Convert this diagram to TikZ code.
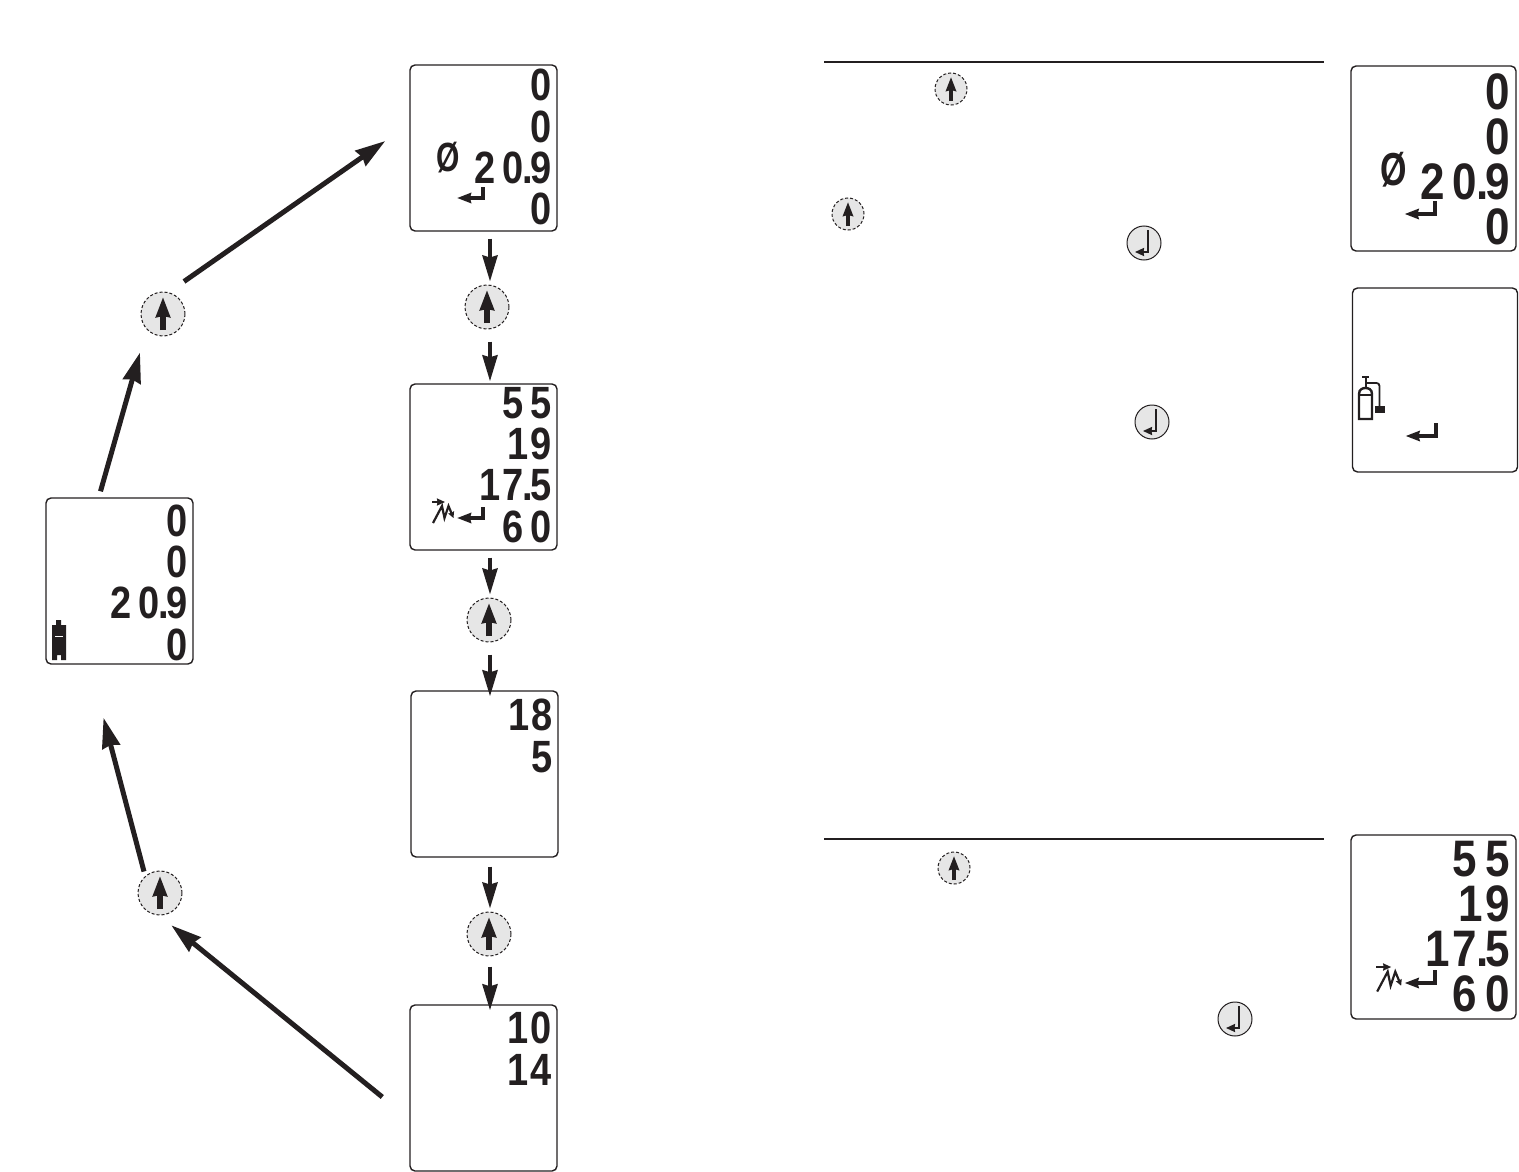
\documentclass[tikz,border=0pt]{standalone}
\usepackage{fontspec}
\usepackage{xcolor}
\usetikzlibrary{arrows.meta,positioning}
\setmainfont{Liberation Sans}
\newfontfamily\lcdfont[LetterSpace=18]{Liberation Sans}
\definecolor{ink}{HTML}{231F20}
\definecolor{keygray}{HTML}{E6E6E6}
\newcommand{\lcdpt}{\kern-.03em.\kern-.07em}
\newcommand{\lcdone}{\kern.12em 1\kern.06em}

\begin{document}
\begin{tikzpicture}[
  x=1pt, y=-1pt,
  screen/.style={draw=ink, line width=1.4pt, rounded corners=5pt, minimum width=147pt, minimum height=166pt, inner sep=0pt},
  bigscreen/.style={screen, minimum width=165pt, minimum height=185pt},
  lcd/.style={anchor=north east, align=right, inner sep=0pt, text=ink, font=\lcdfont\bfseries\fontsize{38}{34.7}\selectfont, yscale=1.19, transform shape},
  biglcd/.style={lcd, font=\lcdfont\bfseries\fontsize{44}{38.6}\selectfont, yscale=.98},
  sign/.style={inner sep=0pt, text=ink, font=\bfseries\fontsize{30}{30}\selectfont, yscale=1.36, transform shape},
  upkey/.style={circle, draw=ink, densely dashed, line width=1pt, fill=keygray, inner sep=0pt, minimum size=44pt},
  smallupkey/.style={upkey, minimum size=32pt},
  enterkey/.style={circle, draw=ink, line width=1pt, fill=keygray, inner sep=0pt, minimum size=34pt},
  keyflow/.style={-{Stealth[length=20pt,width=14pt,inset=1pt]}, line width=5.5pt, draw=ink},
  smallkeyflow/.style={-{Stealth[length=14pt,width=10pt,inset=1pt]}, line width=4pt, draw=ink},
  flow/.style={-{Stealth[length=26pt,width=15pt,inset=2pt]}, line width=3.8pt, draw=ink},
  bigflow/.style={-{Stealth[length=30pt,width=18pt,inset=2pt]}, line width=5pt, draw=ink},
  rulebar/.style={line width=1.6pt, draw=ink},
  retarrow/.pic={\draw[-{Stealth[length=14pt,width=10pt,inset=1pt]}, line width=3.3pt, draw=ink] (0,-11) |- (-26,0);},
  keyret/.pic={\draw[-{Stealth[length=9pt,width=8pt,inset=.5pt]}, line width=1.8pt, draw=ink] (4,-13) |- (-9,9);},
  peak/.pic={
    \draw[-{Stealth[length=8pt,width=7pt,inset=.5pt]}, line width=1.8pt, draw=ink] (0,0) -- (13,0);
    \draw[-{Stealth[length=6pt,width=6pt,inset=.5pt]}, line width=2.2pt, draw=ink] (1,21) -- (10,4) -- (12.5,16) -- (16.5,4) -- (21.5,16);
  },
]
\useasboundingbox (0,0) rectangle (1519,1172);

% screens, left one and the middle column
\node[screen] (home) at (119.5,581) {};
\node[screen] (scrA) at (483.5,148) {};
\node[screen] (scrB) at (483.5,467) {};
\node[screen] (scrC) at (484.5,774) {};
\node[screen] (scrD) at (483.5,1088) {};
% screens beside the text
\node[bigscreen] (sideA) at (1433.5,158.5) {};
\node[bigscreen, minimum height=184pt] (sideB) at (1435,380) {};
\node[bigscreen, minimum height=184pt] (sideC) at (1433.5,927) {};

% digits
\node[lcd] (homeVal) at (187.5,504.5) {0\\0\\20\lcdpt9\\0};
\node[lcd] (scrAval) at (552,69) {0\\0\\20\lcdpt9\\0};
\node[lcd] (scrBval) at (552,387) {55\\\lcdone9\\\lcdone7\lcdpt5\\60};
\node[lcd] (scrCval) at (553,699) {\lcdone8\\5};
\node[lcd] (scrDval) at (552,1012) {\lcdone0\\\lcdone4};
\node[biglcd] (sideAval) at (1510,73) {0\\0\\20\lcdpt9\\0};
\node[biglcd] (sideCval) at (1510,841) {55\\\lcdone9\\\lcdone7\lcdpt5\\60};

% signs inside the screens
\node[sign] (noA) at (448,158) {Ø};
\node[sign, font=\bfseries\fontsize{34}{34}\selectfont] (noB) at (1393.5,170) {Ø};
\pic at (483,198) {retarrow};
\pic at (483,518) {retarrow};
\pic[scale=1.17] at (1435,214) {retarrow};
\pic[scale=1.17] at (1436,436) {retarrow};
\pic[scale=1.17] at (1435,983) {retarrow};
\pic at (432,502) {peak};
\pic[scale=1.17] at (1376,967) {peak};

% battery
\fill[ink] (52,625) -- (56,625) -- (56,620) -- (61,620) -- (61,625) -- (66,625) -- (66,660) -- (61,660) -- (61,655) -- (57,655) -- (57,660) -- (52,660) -- cycle;
\draw[white, line width=1pt] (55,636) -- (63,636);

% gas cylinder
\draw[ink, line width=2.4pt] (1359,419) -- (1372,419) -- (1372,394) .. controls (1372,389) and (1368,388) .. (1365.5,388) .. controls (1363,388) and (1359,389) .. (1359,394) -- cycle;
\draw[ink, line width=2.4pt] (1359,395) -- (1372,395);
\draw[ink, line width=2pt] (1365.5,388) -- (1365.5,377) (1362,377) -- (1369,377);
\draw[ink, line width=1.8pt, rounded corners=3pt] (1365.5,383) -- (1379.5,383) -- (1379.5,407);
\fill[ink] (1375,406) rectangle (1385,413);

% keys
\node[upkey] (keyA) at (163,314) {};
\node[upkey] (keyB) at (487,307) {};
\node[upkey] (keyC) at (489,620) {};
\node[upkey] (keyD) at (489,934) {};
\node[upkey] (keyE) at (160,893) {};
\node[smallupkey] (keyF) at (951,89) {};
\node[smallupkey] (keyG) at (848,214) {};
\node[smallupkey] (keyH) at (954,868) {};
\foreach \k in {keyA,keyB,keyC,keyD,keyE} \draw[keyflow] ([yshift=-16pt]\k.center) -- ([yshift=17pt]\k.center);
\foreach \k in {keyF,keyG,keyH} \draw[smallkeyflow] ([yshift=-12pt]\k.center) -- ([yshift=12pt]\k.center);
\node[enterkey] (retA) at (1144,243) {};
\node[enterkey] (retB) at (1152,422) {};
\node[enterkey] (retC) at (1235,1019) {};
\foreach \k in {retA,retB,retC} \pic at (\k) {keyret};

% rules over the text
\coordinate (ruleAl) at (824,62);
\coordinate (ruleAr) at (1324,62);
\coordinate (ruleBl) at (824,839);
\coordinate (ruleBr) at (1324,839);
\draw[rulebar] (ruleAl) -- (ruleAr);
\draw[rulebar] (ruleBl) -- (ruleBr);

% middle column
\draw[flow] ([xshift=6.5pt,yshift=-7pt]scrA.south) -- ([xshift=3pt,yshift=3pt]keyB.north);
\draw[flow] ([xshift=3pt,yshift=-12pt]keyB.south) -- ([xshift=6.5pt,yshift=2pt]scrB.north);
\draw[flow] ([xshift=6.5pt,yshift=-7pt]scrB.south) -- ([xshift=1pt,yshift=3pt]keyC.north);
\draw[flow] ([xshift=1pt,yshift=-12pt]keyC.south) -- ([xshift=5.5pt,yshift=-6pt]scrC.north);
\draw[flow] ([xshift=5.5pt,yshift=-9pt]scrC.south) -- ([xshift=1pt,yshift=3pt]keyD.north);
\draw[flow] ([xshift=1pt,yshift=-10pt]keyD.south) -- ([xshift=6.5pt,yshift=-6pt]scrD.north);

% round trip
\draw[bigflow] ([xshift=-19pt,yshift=6pt]home.north) -- ([xshift=-23pt,yshift=-16pt]keyA.south);
\draw[bigflow] ([xshift=21pt,yshift=10pt]keyA.north) -- ([xshift=-24pt,yshift=7pt]scrA.west);
\draw[bigflow] ([xshift=-16pt,yshift=-1pt]keyE.north) -- ([xshift=-16pt,yshift=-53pt]home.south);
\draw[bigflow] ([xshift=-27pt,yshift=-9pt]scrD.west) -- ([xshift=-4.6pt,yshift=-16.4pt]keyE.south east);
\end{tikzpicture}
\end{document}
